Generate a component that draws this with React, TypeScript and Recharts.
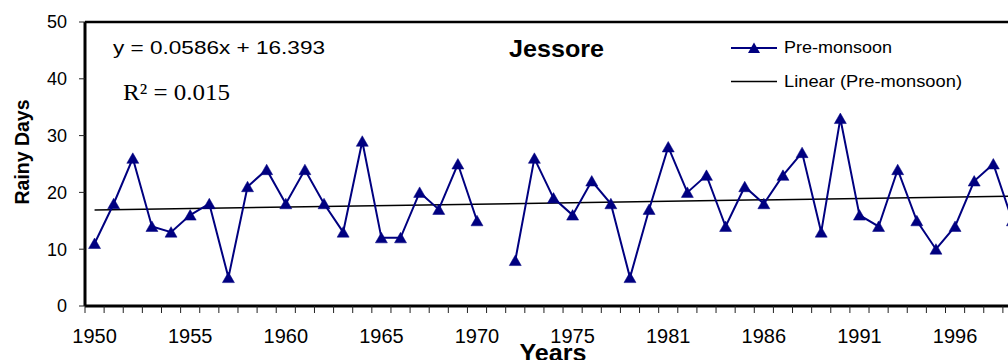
import React from 'react';
import { LineChart, Line, XAxis, YAxis, ReferenceLine } from 'recharts';

const years = [
  '1950', '1951', '1952', '1953', '1954', '1955', '1956', '1957', '1958', '1959',
  '1960', '1961', '1962', '1963', '1964', '1965', '1966', '1967', '1968', '1969',
  '1970', '1971', '1972', '1973', '1974', '1975', '1976', '1977', '1978', '1979',
  '1981', '1982', '1983', '1984', '1985', '1986', '1987', '1988', '1989', '1990',
  '1991', '1992', '1993', '1994', '1995', '1996', '1997', '1998', '1999',
];

const preMonsoon: (number | null)[] = [
  11, 18, 26, 14, 13, 16, 18, 5, 21, 24,
  18, 24, 18, 13, 29, 12, 12, 20, 17, 25,
  15, null, 8, 26, 19, 16, 22, 18, 5, 17,
  28, 20, 23, 14, 21, 18, 23, 27, 13, 33,
  16, 14, 24, 15, 10, 14, 22, 25, 15,
];

const xTickLabels = ['1950', '1955', '1960', '1965', '1970', '1975', '1981', '1986', '1991', '1996'];
const yTicks = [0, 10, 20, 30, 40, 50];

// linear trend line end values
const trendStart = 16.9;
const trendEnd = 19.35;

const data = years.map((year, i) => ({ idx: i, year, value: preMonsoon[i] }));
const labelIdx = xTickLabels.map((l) => years.indexOf(l));
const boundaryTicks = years.map((_, i) => i - 0.5).concat([years.length - 0.5]);
const allXTicks = [...boundaryTicks, ...labelIdx].sort((a, b) => a - b);

const SANS = 'Liberation Sans, Arial, sans-serif';
const SERIF = 'Liberation Serif, Times New Roman, serif';
const NAVY = '#000080';

const XTick = (props: any) => {
  const { x, y, payload } = props;
  const v = payload.value;
  if (Number.isInteger(v)) {
    return (
      <text x={x} y={y + 37} textAnchor="middle" fontSize={20} fontFamily={SANS} fill="#000">
        {years[v]}
      </text>
    );
  }
  return <line x1={x} x2={x} y1={y} y2={y + 7} stroke="#222" strokeWidth={1} />;
};

const TriangleDot = (props: any) => {
  const { cx, cy, index } = props;
  if (cx == null || cy == null || props.value == null) return <g key={`d${index}`} />;
  return (
    <polygon
      key={`d${index}`}
      points={`${cx},${cy - 5.5} ${cx - 6},${cy + 5} ${cx + 6},${cy + 5}`}
      fill={NAVY}
      stroke={NAVY}
      strokeWidth={0.5}
    />
  );
};

export default function App() {
  return (
    <div
      style={{
        position: 'absolute',
        left: 0,
        top: 0,
        width: 1008,
        height: 360,
        overflow: 'hidden',
        background: '#fff',
      }}
    >
      <LineChart
        width={1040}
        height={360}
        data={data}
        margin={{ top: 22, right: 18, left: 0, bottom: 0 }}
      >
        <XAxis
          dataKey="idx"
          type="number"
          domain={[-0.5, years.length - 0.5]}
          ticks={allXTicks}
          interval={0}
          tick={<XTick />}
          tickLine={false}
          tickSize={0}
          tickMargin={0}
          height={54}
          axisLine={{ stroke: '#000', strokeWidth: 3 }}
          allowDataOverflow
        />
        <YAxis
          type="number"
          domain={[0, 50]}
          ticks={yTicks}
          width={85}
          interval={0}
          tickSize={6}
          tickMargin={12}
          tickLine={{ stroke: '#222', strokeWidth: 1 }}
          axisLine={{ stroke: '#000', strokeWidth: 3 }}
          tick={{ fill: '#000', fontSize: 18, fontFamily: SANS }}
        />
        <ReferenceLine y={50} stroke="#000" strokeWidth={2.5} />
        <ReferenceLine
          segment={[
            { x: 0, y: trendStart },
            { x: years.length - 1, y: trendEnd },
          ]}
          stroke="#000"
          strokeWidth={1.5}
        />
        <Line
          type="linear"
          dataKey="value"
          stroke={NAVY}
          strokeWidth={2}
          dot={<TriangleDot />}
          activeDot={false}
          connectNulls={false}
          isAnimationActive={false}
        />
      </LineChart>
      <svg
        width={1008}
        height={360}
        style={{ position: 'absolute', left: 0, top: 0, pointerEvents: 'none' }}
      >
        <text
          transform="translate(28.5,152) rotate(-90)"
          textAnchor="middle"
          fontSize={21}
          fontWeight="bold"
          fontFamily={SANS}
          textLength={105}
          lengthAdjust="spacingAndGlyphs"
          fill="#000"
        >
          Rainy Days
        </text>
        <text
          x={553}
          y={361}
          textAnchor="middle"
          fontSize={24}
          fontWeight="bold"
          fontFamily={SANS}
          textLength={67}
          lengthAdjust="spacingAndGlyphs"
          fill="#000"
        >
          Years
        </text>
        <text
          x={556.5}
          y={57}
          textAnchor="middle"
          fontSize={24}
          fontWeight="bold"
          fontFamily={SANS}
          textLength={95}
          lengthAdjust="spacingAndGlyphs"
          fill="#000"
        >
          Jessore
        </text>
        <text
          x={113}
          y={54}
          fontSize={18.5}
          fontFamily={SANS}
          textLength={212}
          lengthAdjust="spacingAndGlyphs"
          fill="#000"
        >
          y = 0.0586x + 16.393
        </text>
        <text
          x={123}
          y={100}
          fontSize={23}
          fontFamily={SERIF}
          textLength={107}
          lengthAdjust="spacingAndGlyphs"
          fill="#000"
        >
          R² = 0.015
        </text>
        <line x1={731} x2={777} y1={48} y2={48} stroke={NAVY} strokeWidth={2} />
        <polygon points="754,42.5 748,53 760,53" fill={NAVY} />
        <text
          x={784}
          y={52.5}
          fontSize={17}
          fontFamily={SANS}
          textLength={108}
          lengthAdjust="spacingAndGlyphs"
          fill="#000"
        >
          Pre-monsoon
        </text>
        <line x1={731} x2={777} y1={81.5} y2={81.5} stroke="#000" strokeWidth={1.5} />
        <text
          x={784}
          y={87}
          fontSize={17}
          fontFamily={SANS}
          textLength={178}
          lengthAdjust="spacingAndGlyphs"
          fill="#000"
        >
          Linear (Pre-monsoon)
        </text>
      </svg>
    </div>
  );
}
